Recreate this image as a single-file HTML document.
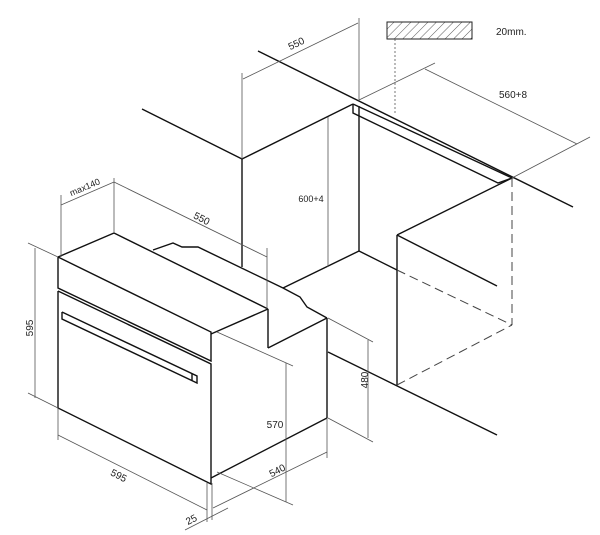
<!DOCTYPE html>
<html><head><meta charset="utf-8"><style>
html,body{margin:0;padding:0;background:#fff}
svg{display:block}
text{font-family:"Liberation Sans",sans-serif;font-size:10px;fill:#222}
.k{stroke:#111;stroke-width:1.4;fill:none}
.t{stroke:#555;stroke-width:0.8;fill:none}
.d{stroke:#444;stroke-width:1;fill:none;stroke-dasharray:9 5}
</style></head><body>
<svg width="600" height="535" viewBox="0 0 600 535" xmlns="http://www.w3.org/2000/svg">
<defs><pattern id="h" width="6" height="6" patternUnits="userSpaceOnUse" patternTransform="rotate(45)"><line x1="0" y1="0" x2="0" y2="6" stroke="#333" stroke-width="0.8"/></pattern></defs>
<line class="k" x1="258" y1="51" x2="573" y2="207"/>
<line class="k" x1="142" y1="109" x2="242" y2="159"/>
<line class="k" x1="242" y1="159" x2="353" y2="104"/>
<line class="k" x1="242" y1="159" x2="242" y2="267"/>
<line class="k" x1="359" y1="106" x2="359" y2="251"/>
<polyline class="k" points="353,104 512,178 498,183 353,113 353,104"/>
<line class="k" x1="359" y1="251" x2="283" y2="288"/>
<line class="k" x1="359" y1="251" x2="397" y2="270"/>
<line class="k" x1="397" y1="235" x2="397" y2="385"/>
<line class="k" x1="397" y1="235" x2="512" y2="178"/>
<line class="k" x1="397" y1="235" x2="497" y2="286"/>
<line class="d" x1="397" y1="270" x2="512" y2="325"/>
<line class="d" x1="397" y1="385" x2="512" y2="325"/>
<line class="d" x1="512" y1="178" x2="512" y2="325"/>
<line class="k" x1="328" y1="352" x2="497" y2="435"/>
<polyline class="k" points="153,250 173,243 182,247 198,247 283,288 300,297 307,307 327,318"/>
<line class="k" x1="268" y1="309" x2="268" y2="348"/>
<line class="k" x1="268" y1="348" x2="327" y2="318"/>
<line class="k" x1="327" y1="318" x2="327" y2="418"/>
<line class="k" x1="114" y1="233" x2="58" y2="257"/>
<line class="k" x1="114" y1="233" x2="268" y2="309"/>
<line class="k" x1="211" y1="334" x2="268" y2="309"/>
<polyline class="k" points="58,257 211,332 211,361 58,288 58,257"/>
<polyline class="k" points="58,291 211,364 211,484 58,408 58,291"/>
<line class="k" x1="211" y1="478" x2="327" y2="418"/>
<polyline class="k" points="62,312 197,376 197,383 62,319 62,312"/>
<line class="k" x1="192" y1="374" x2="192" y2="381"/>
<rect x="387" y="22" width="85" height="17" fill="url(#h)" stroke="#222" stroke-width="1"/>
<line x1="395" y1="39" x2="395" y2="115" stroke="#555" stroke-width="0.8" stroke-dasharray="2 2"/>
<text x="496" y="35">20mm.</text>
<line class="t" x1="359" y1="18" x2="359" y2="101"/>
<line class="t" x1="242" y1="73" x2="242" y2="159"/>
<line class="t" x1="243" y1="79" x2="358" y2="23"/>
<text x="296" y="47" transform="rotate(-26 296 43)" text-anchor="middle">550</text>
<line class="t" x1="359" y1="100" x2="435" y2="63"/>
<line class="t" x1="512" y1="178" x2="590" y2="137"/>
<line class="t" x1="425" y1="69" x2="577" y2="144"/>
<text x="513" y="98" text-anchor="middle">560+8</text>
<line class="t" x1="328" y1="117" x2="328" y2="267"/>
<text x="311" y="202" text-anchor="middle" style="font-size:9px">600+4</text>
<line class="t" x1="368" y1="340" x2="368" y2="438"/>
<line class="t" x1="328" y1="318" x2="373" y2="342"/>
<line class="t" x1="328" y1="418" x2="373" y2="442"/>
<text x="364" y="384" transform="rotate(-90 364 380)" text-anchor="middle">480</text>
<line class="t" x1="35" y1="248" x2="35" y2="398"/>
<line class="t" x1="28" y1="243" x2="58" y2="257"/>
<line class="t" x1="28" y1="393" x2="58" y2="408"/>
<text x="30" y="331" transform="rotate(-90 30 328)" text-anchor="middle">595</text>
<line class="t" x1="61" y1="195" x2="61" y2="257"/>
<line class="t" x1="114" y1="178" x2="114" y2="233"/>
<line class="t" x1="61" y1="205" x2="114" y2="182"/>
<text x="86" y="190" transform="rotate(-23 86 190)" text-anchor="middle" style="font-size:9px">max140</text>
<line class="t" x1="114" y1="182" x2="267" y2="257"/>
<line class="t" x1="267" y1="248" x2="267" y2="309"/>
<text x="202" y="222" transform="rotate(27 202 218)" text-anchor="middle">550</text>
<line class="t" x1="286" y1="363" x2="286" y2="502"/>
<line class="t" x1="217" y1="332" x2="293" y2="366"/>
<line class="t" x1="217" y1="472" x2="293" y2="505"/>
<text x="275" y="428" text-anchor="middle">570</text>
<line class="t" x1="213" y1="508" x2="327" y2="452"/>
<line class="t" x1="327" y1="418" x2="327" y2="458"/>
<text x="277" y="474" transform="rotate(-27 277 470)" text-anchor="middle">540</text>
<line class="t" x1="58" y1="435" x2="207" y2="510"/>
<line class="t" x1="58" y1="408" x2="58" y2="440"/>
<text x="119" y="479" transform="rotate(27 119 475)" text-anchor="middle">595</text>
<line class="t" x1="185" y1="530" x2="228" y2="508"/>
<line class="t" x1="207" y1="483" x2="207" y2="522"/>
<line class="t" x1="212" y1="483" x2="212" y2="520"/>
<text x="191" y="523" transform="rotate(-27 191 519)" text-anchor="middle">25</text>
</svg>
</body></html>
